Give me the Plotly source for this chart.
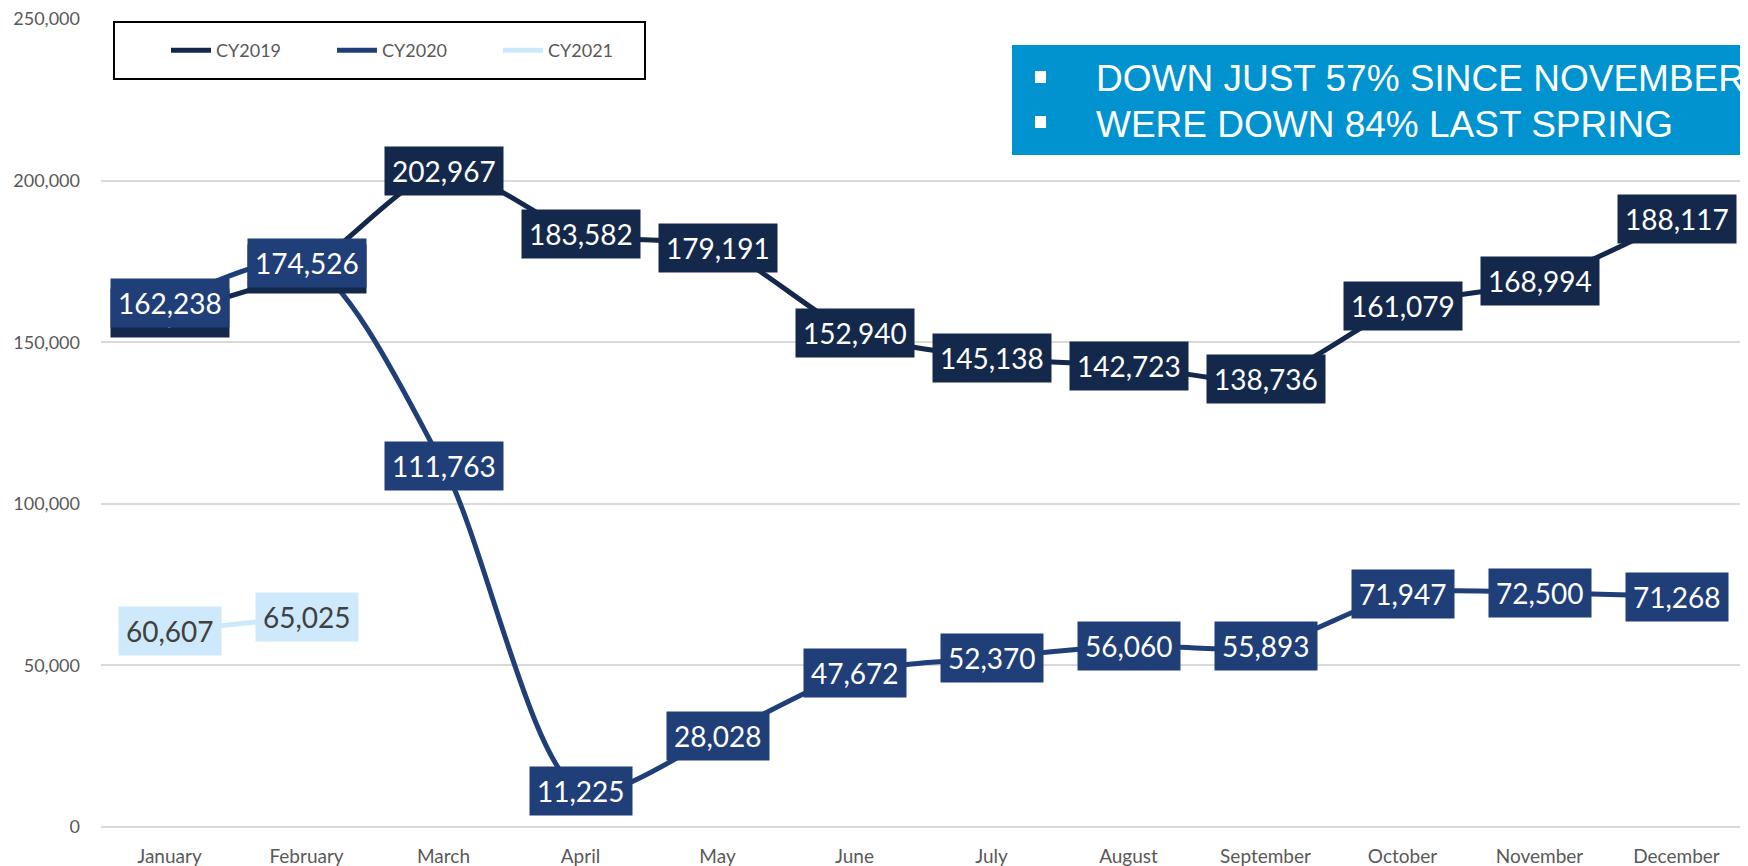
import plotly.graph_objs as go

# Monthly values
months = ['January', 'February', 'March', 'April', 'May', 'June',
          'July', 'August', 'September', 'October', 'November', 'December']

# Jan / Feb 2019 labels are hidden under the 2020 ones, so those two are estimates
cy2019 = [159100, 172700, 202967, 183582, 179191, 152940,
          145138, 142723, 138736, 161079, 168994, 188117]
cy2020 = [162238, 174526, 111763, 11225, 28028, 47672,
          52370, 56060, 55893, 71947, 72500, 71268]
cy2021 = [60607, 65025]

y_ticks = [0, 50000, 100000, 150000, 200000, 250000]

callout_lines = ['DOWN JUST 57% SINCE NOVEMBER', 'WERE DOWN 84% LAST SPRING']

# figure size; the html body adds an 8px margin, so page = figure + 8
W, H = 1748, 866
OFF = 8
# plot area as wanted on the page
PL, PR, PT, PB = 101, 1745, 19, 827
PW, PH = PR - PL, PB - PT


def px_x(p):
    return (p - PL) / PW


def px_y(p):
    return (PB - p) / PH


def build_chart():
    """
    Returns the line chart of monthly counts by calendar year
    """
    series = [
        ('CY2019', cy2019, '#14284b', '#14284b', 'white'),
        ('CY2020', cy2020, '#203f78', '#203f78', 'white'),
        ('CY2021', cy2021, '#cce9fb', '#cde9fb', '#404040'),
    ]

    traces = []
    labels = []
    for name, values, line_color, box_color, text_color in series:
        x = months[:len(values)]
        traces.append(
            go.Scatter(
                x=x,
                y=values,
                name=name,
                mode='lines',
                line=dict(color=line_color, width=5, shape='spline', smoothing=0.8),
                hoverinfo='x+y+name'
            )
        )
        # data labels as boxed annotations centred on each point
        for xv, yv in zip(x, values):
            labels.append(dict(
                x=xv, y=yv, xref='x', yref='y',
                text=f'{yv:,}',
                showarrow=False,
                bgcolor=box_color,
                borderpad=7,
                font=dict(family='Lato', size=28, color=text_color)
            ))

    # callout box text
    callout = []
    for i, line in enumerate(callout_lines):
        callout.append(dict(
            x=px_x(1094), y=px_y(78.5 + 46 * i), xref='paper', yref='paper',
            xanchor='left', yanchor='middle',
            text=line, showarrow=False,
            font=dict(family='Liberation Sans, Arial', size=37, color='white')
        ))

    shapes = [
        # legend frame
        dict(type='rect', xref='paper', yref='paper',
             x0=px_x(114), x1=px_x(645), y0=px_y(79), y1=px_y(22),
             line=dict(color='black', width=2), fillcolor='white', layer='below'),
        # blue callout box
        dict(type='rect', xref='paper', yref='paper',
             x0=px_x(1012), x1=1.05, y0=px_y(155), y1=px_y(45),
             line=dict(width=0), fillcolor='#0093cf', layer='above'),
    ]
    # square bullets
    for top in [71, 116]:
        shapes.append(dict(type='rect', xref='paper', yref='paper',
                           x0=px_x(1035), x1=px_x(1046), y0=px_y(top + 12), y1=px_y(top),
                           line=dict(width=0), fillcolor='white', layer='above'))

    fig = go.Figure(
        data=traces,
        layout=go.Layout(
            width=W,
            height=H,
            margin=dict(l=PL - OFF, r=W - (PR - OFF), t=PT - OFF, b=H - (PB - OFF)),
            paper_bgcolor='white',
            plot_bgcolor='white',
            font=dict(family='Lato', color='#595959'),
            xaxis=dict(
                type='category',
                categoryorder='array',
                categoryarray=months,
                range=[-0.5, 11.5],
                showgrid=False,
                showline=False,
                ticks='',
                ticklabelstandoff=16,
                tickfont=dict(size=19, color='#595959')
            ),
            yaxis=dict(
                range=[0, 250000],
                tickvals=y_ticks,
                tickformat=',',
                showgrid=True,
                gridcolor='#d9d9d9',
                gridwidth=2,
                zeroline=True,
                zerolinecolor='#d9d9d9',
                zerolinewidth=2,
                showline=False,
                ticks='',
                ticklabelstandoff=20,
                ticklabeloverflow='allow',
                tickfont=dict(size=18, color='#595959')
            ),
            showlegend=True,
            legend=dict(
                orientation='h',
                x=px_x(166), y=px_y(50.5),
                xanchor='left', yanchor='middle',
                bgcolor='rgba(0,0,0,0)',
                borderwidth=0,
                itemwidth=40,
                entrywidth=111,
                entrywidthmode='pixels',
                font=dict(family='Lato', size=18, color='#595959')
            ),
            shapes=shapes,
            annotations=labels + callout,
            template='none'
        )
    )

    return fig


fig = build_chart()
fig.write_html("out.html")
